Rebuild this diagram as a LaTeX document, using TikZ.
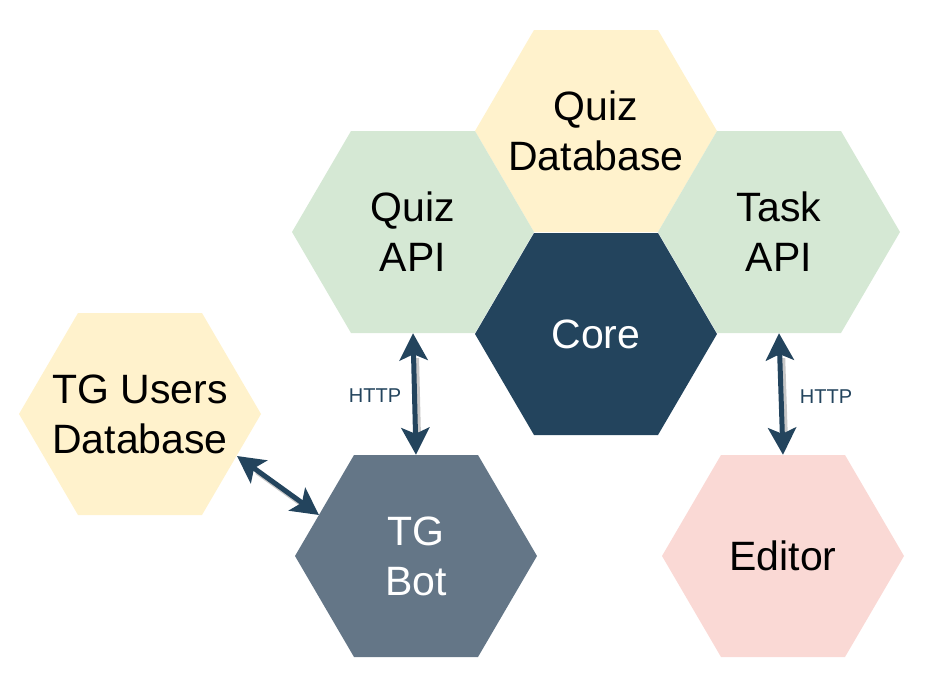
\documentclass[tikz,border=0pt]{standalone}
\usepackage{fontspec}
\setmainfont{Liberation Sans}
\usetikzlibrary{arrows.meta,calc,backgrounds}
\definecolor{cyellow}{HTML}{FFF2CC}
\definecolor{cgreen}{HTML}{D5E8D4}
\definecolor{ccore}{HTML}{23445D}
\definecolor{cbot}{HTML}{647687}
\definecolor{cred}{HTML}{FAD9D5}
\definecolor{carrow}{HTML}{23445D}
\newcommand\hexat[2]{\fill[#2] ($(#1.center)+(-121,0)$) -- ($(#1.center)+(-62,-101)$) -- ($(#1.center)+(62,-101)$) -- ($(#1.center)+(121,0)$) -- ($(#1.center)+(62,101)$) -- ($(#1.center)+(-62,101)$) -- cycle;}
\begin{document}
\begin{tikzpicture}[x=1pt,y=-1pt,
  hexbox/.style={minimum width=242pt,minimum height=202pt,inner sep=0pt,align=center,font=\fontsize{41}{50}\selectfont},
  tipstyle/.style={},
  conn/.style={draw=carrow,line width=5pt,{Stealth[length=27pt,width=28pt,inset=6pt]}-{Stealth[length=27pt,width=28pt,inset=6pt]}},
  connshadow/.style={draw=black!22,line width=5pt,shorten <=22pt,shorten >=22pt},
  lbl/.style={font=\fontsize{20}{24}\selectfont,text=carrow,inner sep=0pt}]
\useasboundingbox (0,0) rectangle (943,681);
% nodes (text)
\node[hexbox] (qdb) at (596,131) {Quiz\\Database};
\node[hexbox] (qapi) at (413,232) {Quiz\\API};
\node[hexbox] (tapi) at (779,232) {Task\\API};
\node[hexbox,text=white] (core) at (596,334) {Core};
\node[hexbox] (tgu) at (140,414) {TG Users\\Database};
\node[hexbox,text=white] (bot) at (416,556) {TG\\Bot};
\node[hexbox] (ed) at (783,556) {Editor};
% hexagons
\begin{scope}[on background layer]
\hexat{qdb}{cyellow}
\hexat{qapi}{cgreen}
\hexat{tapi}{cgreen}
\hexat{core}{ccore}
\hexat{tgu}{cyellow}
\hexat{bot}{cbot}
\hexat{ed}{cred}
\end{scope}
% connector end points
\coordinate (tguend) at ($(tgu.center)+(97,42)$);
\coordinate (botend) at ($(bot.center)+(-97,-41)$);
% shadows
\draw[connshadow] ([shift={(3,3)}]qapi.south) -- ([shift={(3,3)}]bot.north);
\draw[connshadow] ([shift={(3,3)}]tapi.south) -- ([shift={(3,3)}]ed.north);
\draw[connshadow] ([shift={(2,3)}]tguend) -- ([shift={(2,3)}]botend);
% connectors
\draw[conn] (qapi.south) -- (bot.north);
\draw[conn] (tapi.south) -- (ed.north);
\draw[conn] (tguend) -- (botend);
% labels
\node[lbl] (h1) at (375,396) {HTTP};
\node[lbl] (h2) at (826,397) {HTTP};
\end{tikzpicture}
\end{document}
